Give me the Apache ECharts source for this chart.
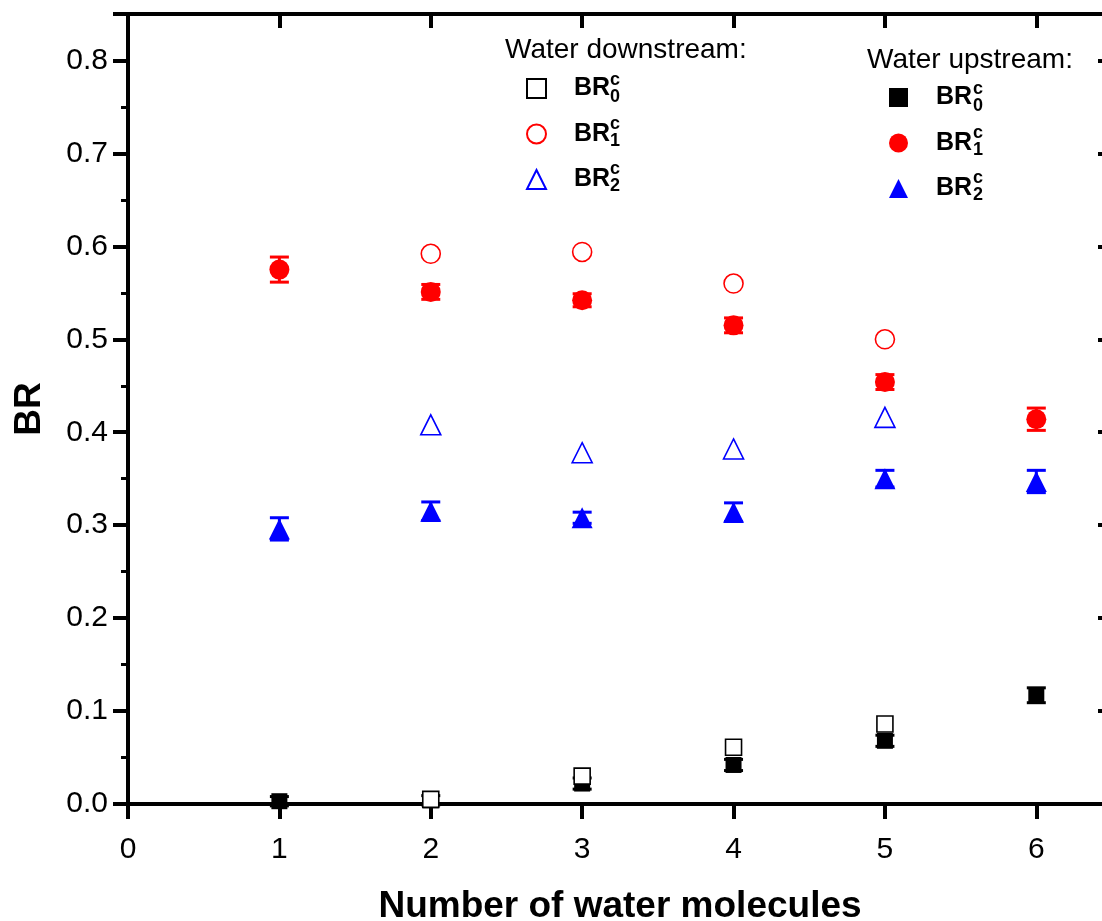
<!DOCTYPE html>
<html>
<head>
<meta charset="utf-8">
<script src="https://cdn.jsdelivr.net/npm/echarts@6/dist/echarts.min.js"></script>
<style>
    html, body { margin: 0; padding: 0; background: #fff; }
    #main { width: 1102px; height: 921px; }
</style>
</head>
<body>
<div id="main"></div>
<script>
// number of water molecules
const xUp = [1, 2, 3, 4, 5, 6];
const xDown = [2, 3, 4, 5];

// water upstream (filled symbols) with error bars
const upBR0 = [0.003, 0.004, 0.022, 0.042, 0.068, 0.117];
const upBR0Err = [0.005, 0.005, 0.006, 0.006, 0.006, 0.008];
const upBR1 = [0.575, 0.551, 0.542, 0.515, 0.454, 0.414];
const upBR1Err = [0.0135, 0.008, 0.007, 0.008, 0.008, 0.012];
const upBR2 = [0.296, 0.315, 0.308, 0.314, 0.350, 0.347];
const upBR2Err = [0.012, 0.010, 0.006, 0.010, 0.009, 0.012];

// water downstream (open symbols)
const downBR0 = [0.005, 0.030, 0.061, 0.086];
const downBR1 = [0.592, 0.594, 0.560, 0.500];
const downBR2 = [0.408, 0.378, 0.382, 0.416];

const subscripts = ['0', '1', '2'];

const FONT = 'Liberation Sans';
const RED = '#ff0000';
const BLUE = '#0000ff';

function pts(xs, ys) {
    return xs.map(function (x, i) { return [x, ys[i]]; });
}

function errData(xs, ys, es) {
    return xs.map(function (x, i) { return [x, ys[i] - es[i], ys[i] + es[i]]; });
}

function errorBars(name, data, color) {
    return {
        name: name,
        type: 'custom',
        data: data,
        z: 2,
        renderItem: function (params, api) {
            let lo = api.coord([api.value(0), api.value(1)]);
            let hi = api.coord([api.value(0), api.value(2)]);
            let half = 9.5;
            let style = { stroke: color, lineWidth: 3 };
            return {
                type: 'group',
                children: [
                    { type: 'line', shape: { x1: lo[0], y1: lo[1], x2: hi[0], y2: hi[1] }, style: style },
                    { type: 'line', shape: { x1: lo[0] - half, y1: lo[1], x2: lo[0] + half, y2: lo[1] }, style: style },
                    { type: 'line', shape: { x1: hi[0] - half, y1: hi[1], x2: hi[0] + half, y2: hi[1] }, style: style }
                ]
            };
        }
    };
}

function scatter(name, data, symbol, size, color, open) {
    return {
        name: name,
        type: 'scatter',
        data: data,
        symbol: symbol,
        symbolSize: size,
        z: open ? 4 : 3,
        itemStyle: open
            ? { color: '#fff', borderColor: color, borderWidth: 1.6, opacity: 1 }
            : { color: color, borderWidth: 0, opacity: 1 },
        emphasis: { disabled: true }
    };
}

// legend rows
const leg1 = { left: 526, top: 76 };
const leg2 = { left: 889, top: 85 };
const rowPitch = 44.5;

function scriptTexts(leg) {
    let out = [];
    for (let i = 0; i < 3; i++) {
        let cy = leg.top + 12 + i * rowPitch;
        let x = leg.left + 18 + 5 + 24 + 37;
        out.push({
            type: 'text', x: x, y: cy - 8,
            style: { text: 'c', font: 'bold 18px "' + FONT + '"', fill: '#000', verticalAlign: 'middle' }
        });
        out.push({
            type: 'text', x: x, y: cy + 9,
            style: { text: subscripts[i], font: 'bold 18px "' + FONT + '"', fill: '#000', verticalAlign: 'middle' }
        });
    }
    return out;
}

function legendBox(leg, names) {
    return {
        data: names,
        orient: 'vertical',
        left: leg.left,
        top: leg.top,
        padding: 0,
        itemWidth: 19,
        itemHeight: 19,
        itemGap: rowPitch - 24,
        selectedMode: false,
        formatter: function () { return 'BR'; },
        textStyle: {
            fontFamily: FONT, fontSize: 25, fontWeight: 'bold', color: '#000',
            lineHeight: 24, padding: [0, 0, 0, 23]
        }
    };
}

const labelFmtX = function (v) { return Math.abs(v - Math.round(v)) < 1e-6 ? String(Math.round(v)) : ''; };
const labelFmtY = function (v) {
    return Math.abs(v * 10 - Math.round(v * 10)) < 1e-6 ? v.toFixed(1) : '';
};

const axisLineStyle = { show: true, onZero: false, lineStyle: { color: '#000', width: 4 } };

let myChart = echarts.init(document.getElementById('main'));

let option = {
    animation: false,
    backgroundColor: '#fff',
    grid: { left: 128, right: -10, top: 14, bottom: 117, containLabel: false, outerBoundsMode: 'none' },
    xAxis: [
        {
            type: 'value', min: 0, max: 6.5, interval: 1, position: 'bottom',
            axisLine: axisLineStyle,
            axisTick: { show: true, length: 15, lineStyle: { color: '#000', width: 4 } },
            axisLabel: { formatter: labelFmtX, fontFamily: FONT, fontSize: 30, color: '#000', margin: 31 },
            splitLine: { show: false },
            name: 'Number of water molecules',
            nameLocation: 'middle',
            nameGap: 84,
            nameTextStyle: { fontFamily: FONT, fontSize: 37, fontWeight: 'bold', color: '#000' }
        },
        {
            type: 'value', min: 0, max: 6.5, interval: 1, position: 'top',
            axisLine: axisLineStyle,
            axisTick: { show: true, inside: true, length: 14, lineStyle: { color: '#000', width: 4 } },
            axisLabel: { show: false },
            splitLine: { show: false }
        }
    ],
    yAxis: [
        {
            type: 'value', min: 0, max: 0.85, interval: 0.1, position: 'left',
            axisLine: axisLineStyle,
            axisTick: { show: true, length: 15, lineStyle: { color: '#000', width: 4 } },
            minorTick: { show: true, splitNumber: 2, length: 7, lineStyle: { color: '#000', width: 3 } },
            axisLabel: { formatter: labelFmtY, fontFamily: FONT, fontSize: 30, color: '#000', margin: 20 },
            splitLine: { show: false },
            name: 'BR',
            nameLocation: 'middle',
            nameGap: 80,
            nameTextStyle: { fontFamily: FONT, fontSize: 37, fontWeight: 'bold', color: '#000' }
        },
        {
            type: 'value', min: 0, max: 0.85, interval: 0.1, position: 'right',
            axisLine: axisLineStyle,
            axisTick: { show: true, inside: true, length: 14, lineStyle: { color: '#000', width: 4 } },
            minorTick: { show: true, splitNumber: 2, length: 7, lineStyle: { color: '#000', width: 3 } },
            axisLabel: { show: false },
            splitLine: { show: false }
        }
    ],
    legend: [
        legendBox(leg1, ['down0', 'down1', 'down2']),
        legendBox(leg2, ['up0', 'up1', 'up2'])
    ],
    graphic: [
        {
            type: 'text', x: 505, y: 50,
            style: { text: 'Water downstream:', font: '28px "' + FONT + '"', fill: '#000', verticalAlign: 'middle' }
        },
        {
            type: 'text', x: 867, y: 60,
            style: { text: 'Water upstream:', font: '28px "' + FONT + '"', fill: '#000', verticalAlign: 'middle' }
        }
    ].concat(scriptTexts(leg1), scriptTexts(leg2)),
    series: [
        errorBars('err0', errData(xUp, upBR0, upBR0Err), '#000'),
        errorBars('err1', errData(xUp, upBR1, upBR1Err), RED),
        errorBars('err2', errData(xUp, upBR2, upBR2Err), BLUE),
        scatter('up0', pts(xUp, upBR0), 'rect', 16, '#000', false),
        scatter('up1', pts(xUp, upBR1), 'circle', 20, RED, false),
        scatter('up2', pts(xUp, upBR2), 'triangle', 21, BLUE, false),
        scatter('down0', pts(xDown, downBR0), 'rect', 16, '#000', true),
        scatter('down1', pts(xDown, downBR1), 'circle', 19, RED, true),
        scatter('down2', pts(xDown, downBR2), 'triangle', 20, BLUE, true)
    ]
};

myChart.setOption(option);
</script>
</body>
</html>
